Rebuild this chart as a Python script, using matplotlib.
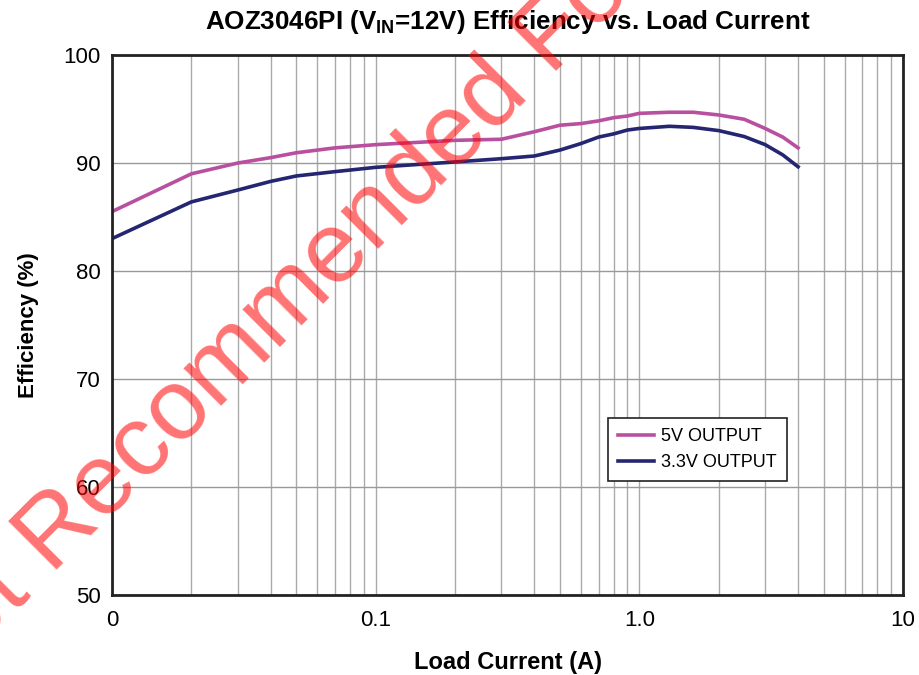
import matplotlib.pyplot as plt
from matplotlib.ticker import FixedLocator, LogLocator, NullFormatter

plt.rcParams['font.family'] = ['Liberation Sans', 'DejaVu Sans']
plt.rcParams['mathtext.fontset'] = 'custom'
plt.rcParams['mathtext.bf'] = 'Liberation Sans:bold'
plt.rcParams['mathtext.rm'] = 'Liberation Sans'

# load current (A) and efficiency (%)
current = [0.01, 0.02, 0.03, 0.04, 0.05, 0.07, 0.1, 0.2, 0.3, 0.4, 0.5, 0.6,
           0.7, 0.8, 0.9, 1.0, 1.3, 1.6, 2.0, 2.5, 3.0, 3.5, 4.0]
eff_5v = [85.5, 89.0, 90.0, 90.5, 90.95, 91.4, 91.7, 92.1, 92.2, 92.9, 93.5, 93.65,
          93.9, 94.2, 94.35, 94.6, 94.7, 94.7, 94.45, 94.05, 93.2, 92.4, 91.4]
eff_3v3 = [83.0, 86.4, 87.5, 88.3, 88.8, 89.2, 89.6, 90.1, 90.4, 90.65, 91.2, 91.8,
           92.4, 92.7, 93.05, 93.2, 93.4, 93.3, 93.0, 92.45, 91.7, 90.75, 89.65]

xticks = [0.01, 0.1, 1.0, 10]
xtick_labels = ['0', '0.1', '1.0', '10']
yticks = [50, 60, 70, 80, 90, 100]

fig = plt.figure(figsize=(9.19, 6.75), dpi=100)
ax = fig.add_axes([0.1219, 0.1185, 0.8607, 0.8])

ax.plot(current, eff_5v, color='#B9509F', lw=2.6, label='5V OUTPUT')
ax.plot(current, eff_3v3, color='#252671', lw=2.6, label='3.3V OUTPUT')

ax.set_xscale('log')
ax.set_xlim(0.01, 10)
ax.set_ylim(50, 100)
ax.xaxis.set_major_locator(FixedLocator(xticks))
ax.set_xticklabels(xtick_labels)
ax.xaxis.set_minor_locator(LogLocator(base=10, subs=range(2, 10)))
ax.xaxis.set_minor_formatter(NullFormatter())
ax.set_yticks(yticks)
ax.tick_params(axis='both', which='both', length=0, labelsize=16)
ax.tick_params(axis='x', pad=11)
ax.tick_params(axis='y', pad=8)
ax.grid(True, which='both', axis='x', color='#aaaaaa', lw=1)
ax.grid(True, which='major', axis='y', color='#999999', lw=1)
for s in ax.spines.values():
    s.set_linewidth(2)
    s.set_color('#222222')

ax.set_xlabel('Load Current (A)', fontsize=17, fontweight='bold', labelpad=14)
ax.set_ylabel('Efficiency (%)', fontsize=16, fontweight='bold', labelpad=18)
ax.set_title(r'AOZ3046PI (V$_\mathbf{IN}$=12V) Efficiency vs. Load Current',
             fontsize=18.7, fontweight='bold', pad=18.5)

leg = ax.legend(loc='lower left', bbox_to_anchor=(0.627, 0.211), fontsize=13,
                fancybox=False, edgecolor='#222222', framealpha=1,
                handlelength=2.0, handletextpad=0.4, borderpad=0.55,
                borderaxespad=0)
leg.get_frame().set_linewidth(1.2)

# red watermark across the chart, starting below the lower-left corner
fig.text(-0.085, -0.044, 'Not Recommended For New Design', color='red',
         alpha=0.55, fontsize=72, rotation=45, ha='left', va='baseline',
         rotation_mode='anchor')

fig.savefig('out.png', dpi=100)
